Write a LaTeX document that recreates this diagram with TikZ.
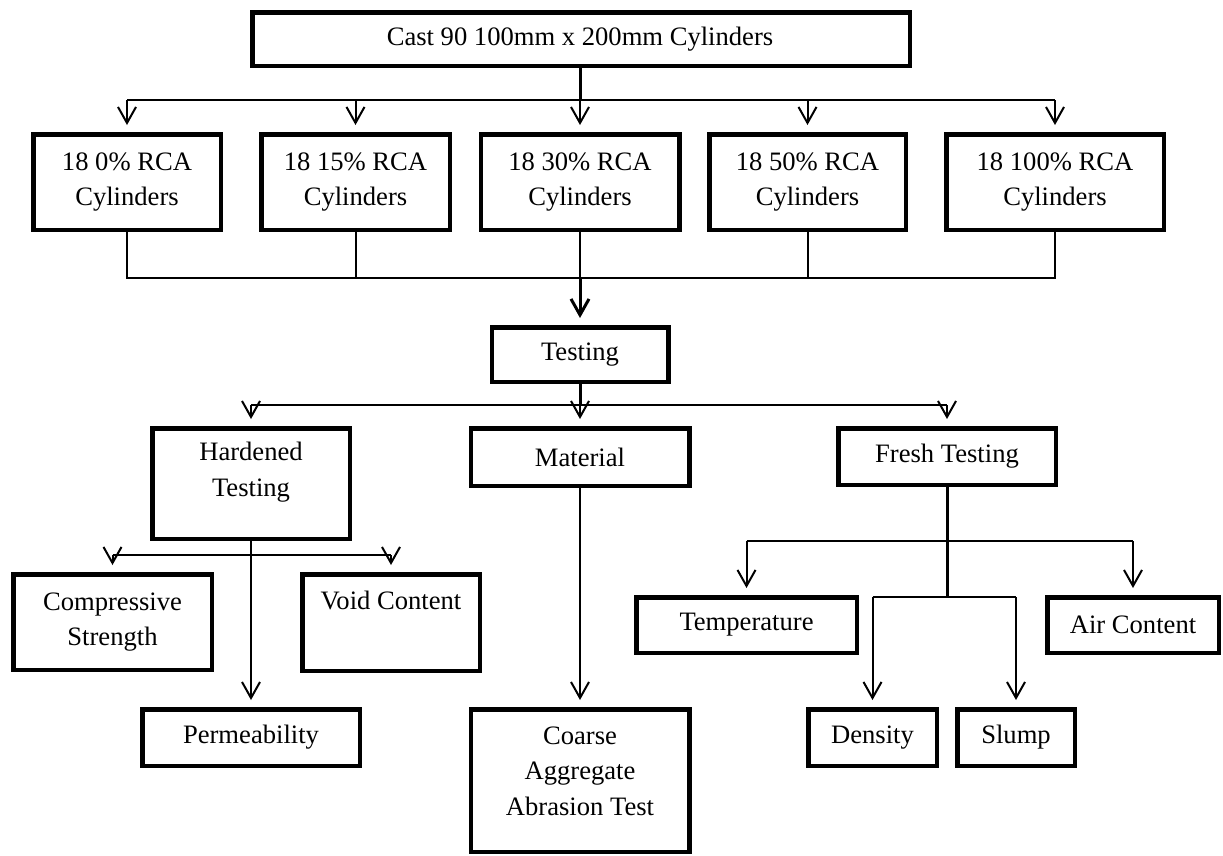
\documentclass[tikz,border=0pt]{standalone}
\usepackage{fontspec}
\setmainfont{Liberation Serif}
\usetikzlibrary{arrows.meta}
\begin{document}
\begin{tikzpicture}[x=1pt,y=-1pt,
  box/.style={draw, line width=4.5pt, inner sep=0pt, align=center, font=\fontsize{26.6}{35.5}\selectfont},
  txt/.style={inner sep=0pt, align=center, font=\fontsize{26.6}{35.5}\selectfont},
  conn/.style={line width=2pt},
  thk/.style={line width=3pt},
  arr/.style={-{Straight Barb[length=16pt,width=18pt]}, shorten >=7pt},
]
\fill[white] (0,0) rectangle (1223,855);
\useasboundingbox (0,0) rectangle (1223,855);

% level 0
\node[box, minimum width=657.5pt, minimum height=53.5pt] (cast) at (581,39) {};
\node[txt] (casttxt) at (580,39) {Cast 90 100mm x 200mm Cylinders};
% level 1
\node[box, minimum width=187.5pt, minimum height=95.5pt] (r0) at (127,182) {18 0\% RCA\\Cylinders};
\node[box, minimum width=188.5pt, minimum height=95.5pt] (r15) at (355.5,182) {18 15\% RCA\\Cylinders};
\node[box, minimum width=198.5pt, minimum height=95.5pt] (r30) at (580,182) {18 30\% RCA\\Cylinders};
\node[box, minimum width=196.5pt, minimum height=95.5pt] (r50) at (807.5,182) {18 50\% RCA\\Cylinders};
\node[box, minimum width=217.5pt, minimum height=95.5pt] (r100) at (1055,182) {18 100\% RCA\\Cylinders};
% testing
\node[box, minimum width=176.5pt, minimum height=54.5pt] (test) at (580,354.5) {Testing};
% level 3
\node[box, minimum width=197.5pt, minimum height=110.5pt] (hard) at (251,483.5) {};
\node[txt] (hardtxt) at (251,472) {Hardened\\Testing};
\node[box, minimum width=218.5pt, minimum height=57.5pt] (mat) at (580,457) {Material};
\node[box, minimum width=217.5pt, minimum height=56.5pt] (fresh) at (947,456.5) {Fresh Testing};
% hardened children
\node[box, minimum width=198.5pt, minimum height=95.5pt] (comp) at (112.5,622) {Compressive\\Strength};
\node[box, minimum width=177.5pt, minimum height=96.5pt] (void) at (391,622.5) {};
\node[txt] (voidtxt) at (391,600) {Void Content};
\node[box, minimum width=217.5pt, minimum height=56.5pt] (perm) at (251,737.5) {Permeability};
% material child
\node[box, minimum width=218.5pt, minimum height=142.5pt] (coarse) at (580,780.5) {};
\node[txt] (coarsetxt) at (580,771) {Coarse\\Aggregate\\Abrasion Test};
% fresh children
\node[box, minimum width=220.5pt, minimum height=55.5pt] (temp) at (746.5,625) {Temperature};
\node[box, minimum width=171.5pt, minimum height=55.5pt] (air) at (1133,625) {Air Content};
\node[box, minimum width=128.5pt, minimum height=56.5pt] (dens) at (872.5,737.5) {Density};
\node[box, minimum width=117.5pt, minimum height=56.5pt] (slump) at (1016,737.5) {Slump};

% bus coordinates
\coordinate (b1) at (0,100);
\coordinate (b2) at (0,278);
\coordinate (b3) at (0,405);
\coordinate (b4) at (0,555);
\coordinate (b5) at (0,541);
\coordinate (b6) at (0,597);

% cast -> cylinders
\draw[thk] (r30.north |- cast.south) -- (r30.north |- b1);
\draw[conn] (r0.north |- b1) -- (r100.north |- b1);
\foreach \n in {r0,r15,r30,r50,r100}
  \draw[conn,arr] (\n.north |- b1) -- (\n.north);

% cylinders -> testing
\draw[conn] (r0.south) -- (r0.south |- b2) -- (r100.south |- b2) -- (r100.south);
\foreach \n in {r15,r30,r50}
  \draw[conn] (\n.south) -- (\n.south |- b2);
\draw[thk,arr] (r30.south |- b2) -- (test.north);

% testing -> branches
\draw[thk] (test.south) -- (test.south |- b3);
\draw[conn] (hard.north |- b3) -- (fresh.north |- b3);
\foreach \n in {hard,mat,fresh}
  \draw[conn,arr] (\n.north |- b3) -- (\n.north);

% hardened
\draw[conn,arr] (hard.south) -- (perm.north);
\draw[conn] (comp.north |- b4) -- (void.north |- b4);
\draw[conn,arr] (comp.north |- b4) -- (comp.north);
\draw[conn,arr] (void.north |- b4) -- (void.north);

% material
\draw[conn,arr] (mat.south) -- (coarse.north);

% fresh
\draw[thk] (fresh.south) -- (fresh.south |- b6);
\draw[conn] (temp.north |- b5) -- (air.north |- b5);
\draw[conn,arr] (temp.north |- b5) -- (temp.north);
\draw[conn,arr] (air.north |- b5) -- (air.north);
\draw[conn] (dens.north |- b6) -- (slump.north |- b6);
\draw[conn,arr] (dens.north |- b6) -- (dens.north);
\draw[conn,arr] (slump.north |- b6) -- (slump.north);
\end{tikzpicture}
\end{document}
